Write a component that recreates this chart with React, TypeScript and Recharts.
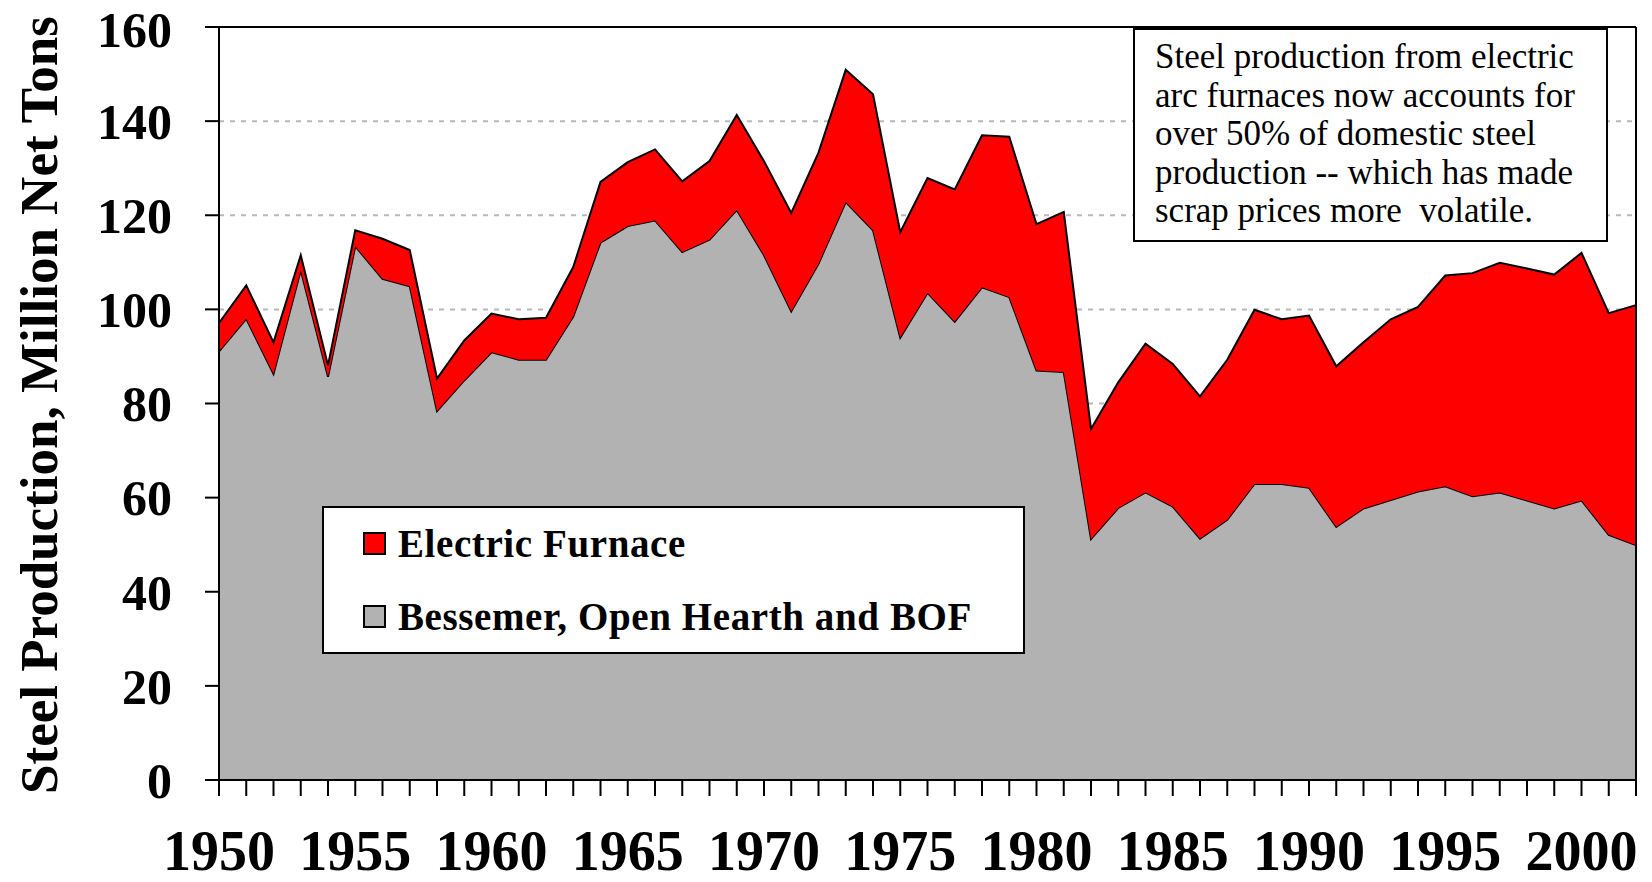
import { AreaChart, Area, XAxis, YAxis, CartesianGrid, ReferenceLine, Legend, Label } from 'recharts';

const years = [
  1950, 1951, 1952, 1953, 1954, 1955, 1956, 1957, 1958, 1959,
  1960, 1961, 1962, 1963, 1964, 1965, 1966, 1967, 1968, 1969,
  1970, 1971, 1972, 1973, 1974, 1975, 1976, 1977, 1978, 1979,
  1980, 1981, 1982, 1983, 1984, 1985, 1986, 1987, 1988, 1989,
  1990, 1991, 1992, 1993, 1994, 1995, 1996, 1997, 1998, 1999,
  2000, 2001, 2002,
];

// Bessemer, open hearth and BOF (million net tons)
const bessemer = [
  91.1, 98.0, 86.3, 108.3, 85.7, 113.4, 106.5, 104.9, 78.4, 84.9,
  90.9, 89.3, 89.3, 98.5, 114.2, 117.7, 118.9, 112.2, 114.8, 121.1,
  111.5, 99.6, 109.7, 122.8, 116.8, 94.0, 103.5, 97.4, 104.7, 102.6,
  87.0, 86.7, 51.2, 57.8, 61.1, 58.1, 51.3, 55.3, 62.9, 62.9,
  62.1, 53.8, 57.7, 59.5, 61.3, 62.4, 60.3, 61.1, 59.4, 57.7,
  59.4, 52.1, 49.9,
];

// electric arc furnace (million net tons), stacked on top
const electric = [
  6.0, 7.1, 6.7, 3.2, 2.4, 3.4, 8.5, 7.7, 6.9, 8.5,
  8.2, 8.6, 8.9, 10.5, 12.9, 13.6, 15.1, 15.0, 16.7, 20.2,
  20.0, 20.9, 23.6, 28.1, 28.9, 22.4, 24.4, 28.1, 32.3, 34.1,
  31.1, 34.0, 23.4, 26.7, 31.6, 30.3, 30.2, 34.0, 37.0, 35.0,
  36.6, 34.1, 35.3, 38.4, 39.2, 44.8, 47.4, 48.8, 49.3, 49.7,
  52.6, 47.1, 51.0,
];

const yTicks = [0, 20, 40, 60, 80, 100, 120, 140, 160];
const yearLabels = [1950, 1955, 1960, 1965, 1970, 1975, 1980, 1985, 1990, 1995, 2000];

const noteLines = [
  'Steel production from electric',
  'arc furnaces now accounts for',
  'over 50% of domestic steel',
  'production -- which has made',
  'scrap prices more  volatile.',
];

const legendItems = [
  { name: 'Electric Furnace', color: '#ff0000' },
  { name: 'Bessemer, Open Hearth and BOF', color: '#b2b2b2' },
];

const data = years.map((year, i) => ({ year, bessemer: bessemer[i], electric: electric[i] }));

const serif = '"Liberation Serif", "Times New Roman", serif';

function YearTick({ x, y, payload }: any) {
  if (!yearLabels.includes(payload.value)) return <g />;
  return (
    <text x={x} y={y} dy="0.71em" textAnchor="middle" fontFamily={serif} fontWeight="bold" fontSize={56} fill="#000">
      {payload.value}
    </text>
  );
}

function YTitle() {
  return (
    <text x={57} y={405} transform="rotate(-90 57 405)" textAnchor="middle" fontFamily={serif} fontWeight="bold" fontSize={53} fill="#000">
      Steel Production, Million Net Tons
    </text>
  );
}

function LegendBox() {
  return (
    <div style={{ position: 'relative', width: 703, height: 148, boxSizing: 'border-box', border: '2px solid #000', background: '#fff' }}>
      {legendItems.map((item, i) => (
        <div key={item.name} style={{ position: 'absolute', left: 39, top: 15 + i * 73, height: 40, display: 'flex', alignItems: 'center' }}>
          <div style={{ width: 23, height: 23, boxSizing: 'border-box', border: '2px solid #000', background: item.color }} />
          <span style={{ marginLeft: 12, fontFamily: serif, fontWeight: 'bold', fontSize: 39, letterSpacing: 0.6, color: '#000', whiteSpace: 'nowrap' }}>{item.name}</span>
        </div>
      ))}
    </div>
  );
}

export default function App() {
  return (
    <div style={{ position: 'absolute', left: 0, top: 0, width: 1652, height: 882, background: '#fff' }}>
      <AreaChart width={1652} height={882} data={data} margin={{ top: 27, right: 16, left: 0, bottom: 0 }}>
        <CartesianGrid horizontal vertical={false} stroke="#b8b8b8" strokeWidth={2} strokeDasharray="5 6" />
        <XAxis
          dataKey="year"
          interval={0}
          height={102}
          tickSize={16}
          tickMargin={34}
          axisLine={{ stroke: '#000', strokeWidth: 2 }}
          tickLine={{ stroke: '#000', strokeWidth: 2 }}
          tick={<YearTick />}
        />
        <YAxis
          width={219}
          domain={[0, 160]}
          ticks={yTicks}
          tickSize={14}
          tickMargin={33}
          axisLine={{ stroke: '#000', strokeWidth: 2 }}
          tickLine={{ stroke: '#000', strokeWidth: 2 }}
          tick={{ fontFamily: serif, fontWeight: 'bold', fontSize: 50, fill: '#000' }}
        >
          <Label content={<YTitle />} />
        </YAxis>
        <Area type="linear" dataKey="bessemer" name="Bessemer, Open Hearth and BOF" stackId="steel" fill="#b2b2b2" fillOpacity={1} stroke="#000" strokeWidth={2} dot={false} activeDot={false} isAnimationActive={false} />
        <Area type="linear" dataKey="electric" name="Electric Furnace" stackId="steel" fill="#ff0000" fillOpacity={1} stroke="#000" strokeWidth={2} dot={false} activeDot={false} isAnimationActive={false} />
        <ReferenceLine y={160} stroke="#000" strokeWidth={2} />
        <ReferenceLine x={2002} stroke="#000" strokeWidth={2} />
        <Legend layout="vertical" align="center" verticalAlign="middle" wrapperStyle={{ left: 322, top: 506, width: 703 }} content={() => <LegendBox />} />
      </AreaChart>
      <div style={{ position: 'absolute', left: 1133, top: 28, width: 475, height: 214, boxSizing: 'border-box', border: '2px solid #000', background: '#fff', paddingLeft: 20, paddingTop: 8 }}>
        {noteLines.map((line) => (
          <div key={line} style={{ fontFamily: serif, fontSize: 35, lineHeight: '38.5px', color: '#000', whiteSpace: 'pre' }}>{line}</div>
        ))}
      </div>
    </div>
  );
}
